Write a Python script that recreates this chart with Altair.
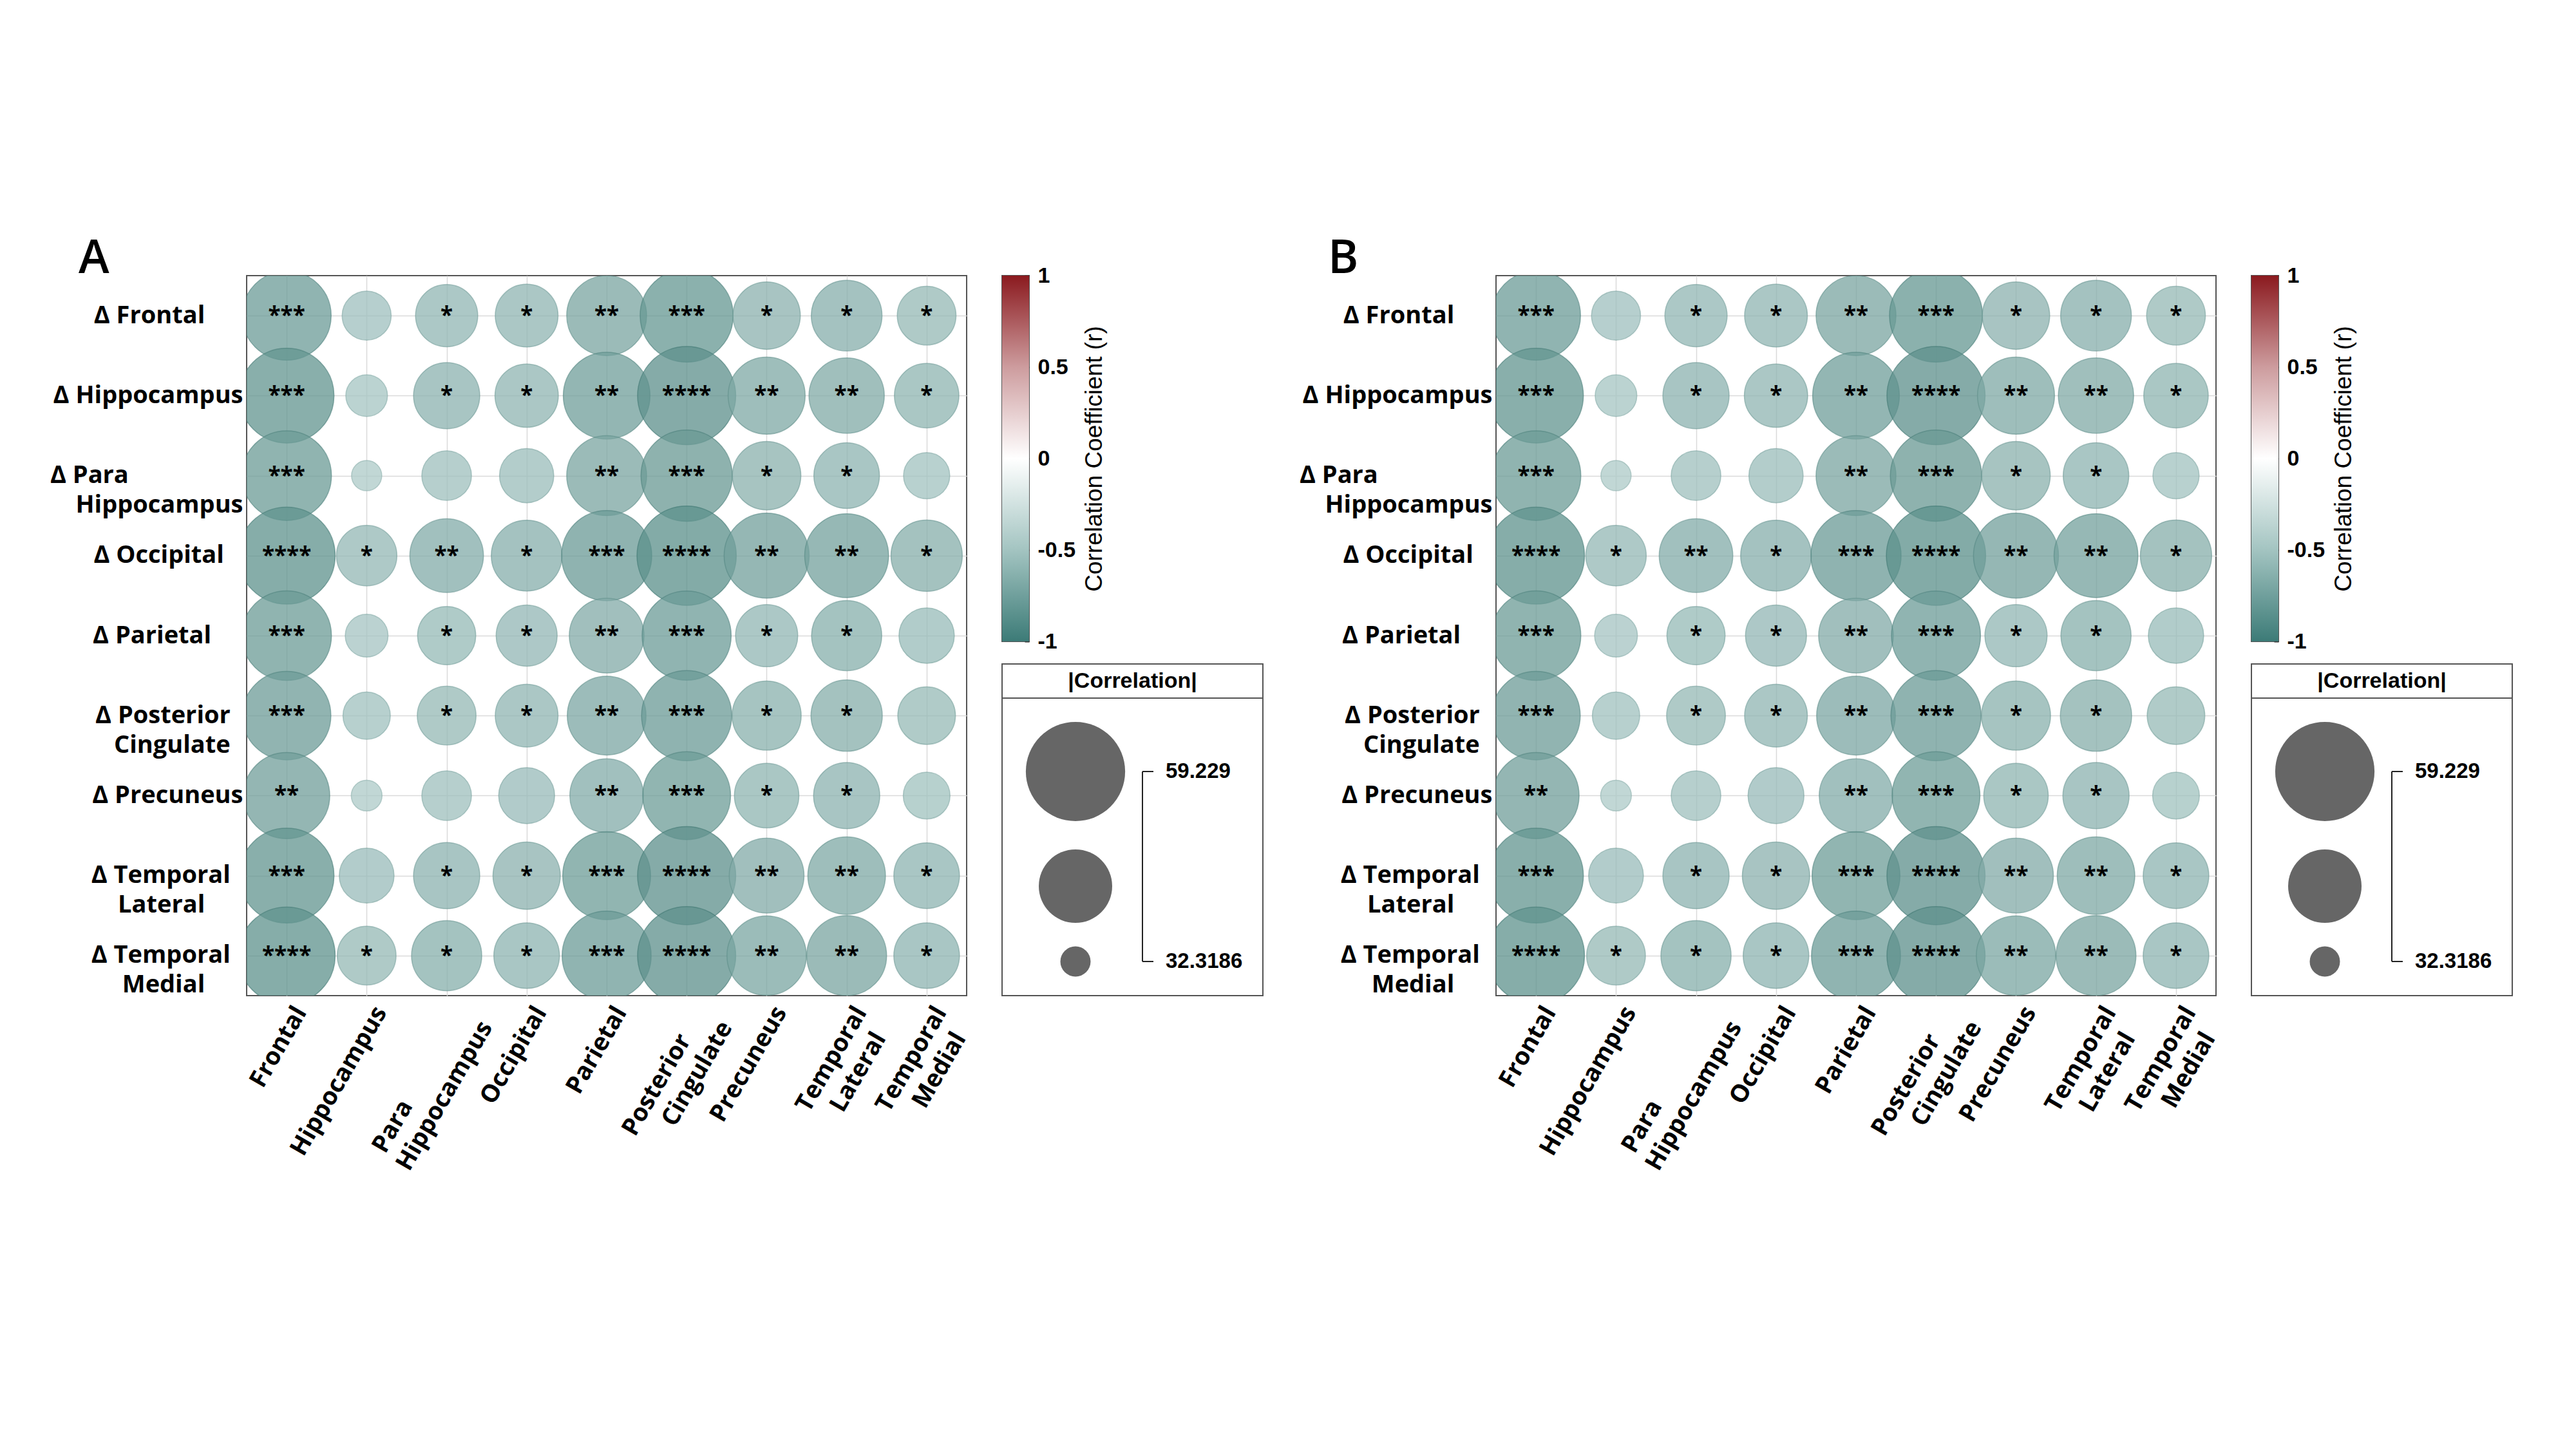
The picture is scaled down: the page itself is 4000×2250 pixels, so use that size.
import json
import math
import altair as alt
import pandas as pd

# ---------------- data ----------------
ROW_LINES = [["Δ Frontal"], ["Δ Hippocampus"], ["Δ Para", "Hippocampus"], ["Δ Occipital"],
             ["Δ Parietal"], ["Δ Posterior", "Cingulate"], ["Δ Precuneus"],
             ["Δ Temporal", "Lateral"], ["Δ Temporal", "Medial"]]
COL_LINES = [["Frontal"], ["Hippocampus"], ["Para", "Hippocampus"], ["Occipital"],
             ["Parietal"], ["Posterior", "Cingulate"], ["Precuneus"],
             ["Temporal", "Lateral"], ["Temporal", "Medial"]]

# |Correlation| (bubble size values) per row (Δ region) x column (region)
VALUES_A = [
    [53.41, 36.81, 41.21, 41.42, 48.77, 55.60, 43.21, 44.63, 39.96],
    [56.56, 34.79, 42.75, 41.64, 52.20, 58.55, 47.42, 46.64, 42.08],
    [53.72, 32.3186, 36.98, 38.41, 48.77, 54.65, 43.67, 42.52, 35.99],
    [57.88, 40.57, 45.87, 44.63, 54.02, 59.229, 51.32, 50.74, 44.87],
    [53.72, 35.08, 39.76, 40.78, 46.38, 53.41, 41.21, 44.39, 38.78],
    [53.10, 36.32, 39.96, 41.42, 48.22, 54.02, 43.91, 44.87, 39.56],
    [51.91, 32.42, 36.98, 38.98, 45.87, 52.80, 42.08, 42.75, 36.15],
    [56.56, 38.60, 42.75, 43.21, 52.80, 58.55, 46.38, 47.69, 42.52],
    [57.88, 39.96, 44.39, 42.52, 53.41, 58.55, 48.50, 48.77, 42.52],
]
STARS_A = [
    ["***", "", "*", "*", "**", "***", "*", "*", "*"],
    ["***", "", "*", "*", "**", "****", "**", "**", "*"],
    ["***", "", "", "", "**", "***", "*", "*", ""],
    ["****", "*", "**", "*", "***", "****", "**", "**", "*"],
    ["***", "", "*", "*", "**", "***", "*", "*", ""],
    ["***", "", "*", "*", "**", "***", "*", "*", ""],
    ["**", "", "", "", "**", "***", "*", "*", ""],
    ["***", "", "*", "*", "***", "****", "**", "**", "*"],
    ["****", "*", "*", "*", "***", "****", "**", "**", "*"],
]
VALUES_B = [
    [53.41, 36.81, 41.21, 41.42, 48.77, 55.60, 43.21, 44.63, 39.96],
    [56.56, 34.79, 42.75, 41.64, 52.20, 58.55, 47.42, 46.64, 42.08],
    [53.72, 32.3186, 36.98, 38.41, 48.77, 54.65, 43.67, 42.52, 35.99],
    [57.88, 40.57, 45.87, 44.63, 54.02, 59.229, 51.32, 50.74, 44.87],
    [53.72, 35.08, 39.76, 40.78, 46.38, 53.41, 41.21, 44.39, 38.78],
    [53.10, 36.32, 39.96, 41.42, 48.22, 54.02, 43.91, 44.87, 39.56],
    [51.91, 32.42, 36.98, 38.98, 45.87, 52.80, 42.08, 42.75, 36.15],
    [56.56, 38.60, 42.75, 43.21, 52.80, 58.55, 46.38, 47.69, 42.52],
    [57.88, 39.96, 44.39, 42.52, 53.41, 58.55, 48.50, 48.77, 42.52],
]
STARS_B = [
    ["***", "", "*", "*", "**", "***", "*", "*", "*"],
    ["***", "", "*", "*", "**", "****", "**", "**", "*"],
    ["***", "", "", "", "**", "***", "*", "*", ""],
    ["****", "*", "**", "*", "***", "****", "**", "**", "*"],
    ["***", "", "*", "*", "**", "***", "*", "*", ""],
    ["***", "", "*", "*", "**", "***", "*", "*", ""],
    ["**", "", "", "", "**", "***", "*", "*", ""],
    ["***", "", "*", "*", "***", "****", "**", "**", "*"],
    ["****", "*", "*", "*", "***", "****", "**", "**", "*"],
]
PANEL_LETTERS = ["A", "B"]

SIZE_DOMAIN = [32.3186, 59.229]
LEG_VALUES = [59.229, 45.7738, 32.3186]
LEG_LABELS = ["59.229", "", "32.3186"]
LEG_TITLE = ["|Correlation|"]
CBAR_LIMITS = [-1, 1]
CBAR_TICKS = [-1, -0.5, 0, 0.5, 1]
CBAR_TITLE = "Correlation Coefficient (r)"

# ---------------- style ----------------
NBSP = "\u00a0"
ZWSP = "\u200b"   # stops Vega's trim() from removing the padding
ROW_PAD = [[6], [0], [18, 0], [3], [5], [2, 2], [0], [2, 6], [2, 6]]
COL_PAD = [[0], [0], [17, 0], [0], [0], [5, 0], [0], [0, 2], [0, 2]]
LBL_FONT = "Open Sans"
NUM_FONT = "Liberation Sans"
PLOT = 1118
SIZE_RANGE = [math.pi / 4 * 53 ** 2, math.pi / 4 * 174 ** 2]
FILL_RANGE = ["#adcac8", "#5c908b"]
STROKE_RANGE = ["#8db1ae", "#3e7671"]
CBAR_STOPS = [(0.0, "#3c7b77"), (0.25, "#a3c4c1"), (0.5, "#ffffff"), (0.75, "#cd9c9e"), (1.0, "#8b1a1f")]
LEG_W, LEG_H = 405, 515
LEG_Y_RANGE = [462, 345, 167]

ROW_KEYS = [" ".join(l) for l in ROW_LINES]
COL_KEYS = [" ".join(l) for l in COL_LINES]


def label_expr(keys, lines, pads):
    padded = [[ln + (NBSP * p + ZWSP if p else "") for ln, p in zip(ls, ps)]
              for ls, ps in zip(lines, pads)]
    return "%s[indexof(%s, datum.value)]" % (json.dumps(padded, ensure_ascii=False),
                                             json.dumps(keys, ensure_ascii=False))


ROW_EXPR = label_expr(ROW_KEYS, ROW_LINES, ROW_PAD)
COL_EXPR = label_expr(COL_KEYS, COL_LINES, COL_PAD)


def size_scale():
    return alt.Scale(domain=SIZE_DOMAIN, range=SIZE_RANGE, zero=False)


def main_chart(letter, values, stars):
    recs = []
    for i, rk in enumerate(ROW_KEYS):
        for j, ck in enumerate(COL_KEYS):
            recs.append({"row": rk, "col": ck, "v": values[i][j], "stars": stars[i][j]})
    df = pd.DataFrame(recs)
    x = alt.X("col:N", scale=alt.Scale(type="point", domain=COL_KEYS, padding=0.5),
              axis=alt.Axis(orient="bottom", title=None, labelExpr=COL_EXPR, labelAngle=300,
                            labelAlign="right", labelBaseline="middle", labelFont=LBL_FONT,
                            labelFontSize=38, labelFontWeight="bold", labelColor="black",
                            labelLineHeight=46, labelPadding=20, labelOffset=22, labelLimit=0,
                            labelOverlap=False, ticks=False, domain=False, grid=True,
                            gridColor="#dadada", gridWidth=1.5))
    y = alt.Y("row:N", scale=alt.Scale(type="point", domain=ROW_KEYS, padding=0.5),
              axis=alt.Axis(orient="left", title=None, labelExpr=ROW_EXPR, labelAlign="right",
                            labelBaseline="middle", labelFont=LBL_FONT, labelFontSize=38,
                            labelFontWeight="bold", labelColor="black", labelLineHeight=46,
                            labelPadding=6, labelLimit=0, labelOverlap=False, ticks=False,
                            domain=False, grid=True, gridColor="#dadada", gridWidth=1.5))
    base = alt.Chart(df)
    circles = base.mark_circle(opacity=1, fillOpacity=0.76, strokeOpacity=0.6,
                               strokeWidth=1.5, clip=True).encode(
        x=x, y=y,
        size=alt.Size("v:Q", scale=size_scale(), legend=None),
        fill=alt.Fill("v:Q", scale=alt.Scale(domain=SIZE_DOMAIN, range=FILL_RANGE, zero=False), legend=None),
        stroke=alt.Stroke("v:Q", scale=alt.Scale(domain=SIZE_DOMAIN, range=STROKE_RANGE, zero=False), legend=None),
    )
    text = base.mark_text(font=LBL_FONT, fontSize=35, fontWeight="bold", color="black",
                          baseline="middle", align="center").encode(x=x, y=y, text="stars:N")
    return alt.layer(circles, text).properties(
        width=PLOT, height=PLOT,
        title=alt.TitleParams(letter, anchor="start", frame="group", dx=-261, offset=-68,
                              baseline="alphabetic", font=LBL_FONT, fontSize=72,
                              fontWeight=600, color="black"))


def colorbar():
    grad = alt.LinearGradient(gradient="linear",
                              stops=[alt.GradientStop(color=c, offset=o) for o, c in CBAR_STOPS],
                              x1=0, x2=0, y1=1, y2=0)
    df = pd.DataFrame({"lo": [CBAR_LIMITS[0]], "hi": [CBAR_LIMITS[1]]})
    return alt.Chart(df).mark_rect(fill=grad).encode(
        x=alt.value(0), x2=alt.value(42),
        y=alt.Y("lo:Q", scale=alt.Scale(domain=CBAR_LIMITS, nice=False, zero=False),
                axis=alt.Axis(orient="right", values=CBAR_TICKS, labelExpr="toString(datum.value)",
                              offset=-7, domain=False, ticks=True, tickSize=7, tickWidth=2,
                              tickColor="#333333", labelPadding=13, labelFont=NUM_FONT,
                              labelFontSize=34, labelFontWeight="bold", labelColor="black",
                              grid=False, title=CBAR_TITLE, titleAngle=270, titleBaseline="top",
                              titleFont=NUM_FONT, titleFontSize=37, titleFontWeight="normal",
                              titleColor="black", titlePadding=12)),
        y2="hi:Q",
    ).properties(width=42, height=568)


def size_legend():
    df = pd.DataFrame({"value": LEG_VALUES, "label": LEG_LABELS})

    def leg_y(field):
        return alt.Y(field, scale=alt.Scale(domain=[LEG_VALUES[2], LEG_VALUES[1], LEG_VALUES[0]],
                                            range=LEG_Y_RANGE, nice=False, zero=False), axis=None)
    base = alt.Chart(df)
    circles = base.mark_circle(color="#666666", opacity=1).encode(
        x=alt.value(114), y=leg_y("value:Q"),
        size=alt.Size("value:Q", scale=size_scale(), legend=None))
    labels = base.transform_filter("datum.label != ''").mark_text(
        align="left", baseline="middle", font=NUM_FONT, fontSize=33, fontWeight="bold",
        color="black").encode(x=alt.value(254), y=leg_y("value:Q"), text="label:N")
    ticks = base.transform_filter("datum.label != ''").mark_rule(color="#222222", strokeWidth=2).encode(
        x=alt.value(218), x2=alt.value(235), y=leg_y("value:Q"))
    br_df = pd.DataFrame({"top": [LEG_VALUES[0]], "bottom": [LEG_VALUES[2]]})
    bracket = alt.Chart(br_df).mark_rule(color="#222222", strokeWidth=2).encode(
        x=alt.value(218), y=leg_y("top:Q"), y2="bottom:Q")
    tdf = pd.DataFrame({"t": LEG_TITLE})
    title = alt.Chart(tdf).mark_text(font=NUM_FONT, fontSize=34, fontWeight="bold", color="black",
                                     baseline="middle", align="center").encode(
        x=alt.value(LEG_W / 2), y=alt.value(27), text="t:N")
    header = alt.Chart(tdf).mark_rule(color="#555555", strokeWidth=2).encode(
        x=alt.value(0), x2=alt.value(LEG_W), y=alt.value(53))
    return alt.layer(circles, labels, ticks, bracket, header, title).properties(width=LEG_W, height=LEG_H)


def panel(letter, values, stars):
    legends = alt.vconcat(colorbar(), size_legend(), spacing=35, bounds="flush")
    return alt.hconcat(main_chart(letter, values, stars), legends, spacing=55, bounds="flush")


chart = alt.hconcat(
    panel(PANEL_LETTERS[0], VALUES_A, STARS_A),
    panel(PANEL_LETTERS[1], VALUES_B, STARS_B),
    spacing=53,
).properties(
    padding={"left": 68, "top": 357, "right": 10, "bottom": 10},
    background="white",
).configure_view(stroke="#555555", strokeWidth=2)

chart.save("out.html", embed_options={"renderer": "svg", "actions": False})
